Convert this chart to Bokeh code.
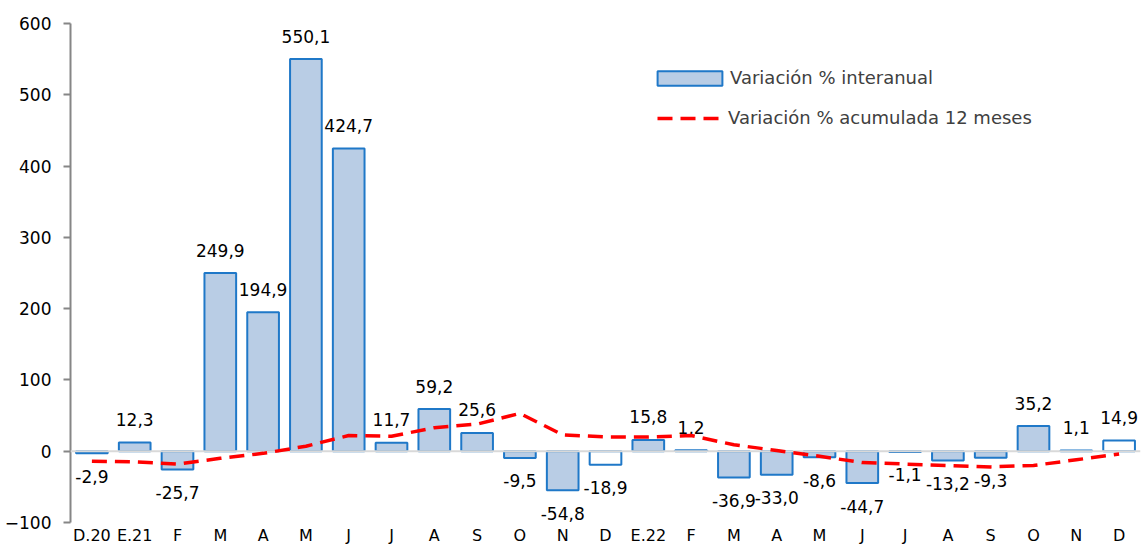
from bokeh.plotting import figure
from bokeh.models import (ColumnDataSource, FixedTicker, Span, Legend, LegendItem,
                          Range1d)
from bokeh.embed import file_html
from bokeh.resources import INLINE
from bokeh.core.properties import value

# ---- data ----
categories = ["D.20", "E.21", "F", "M", "A", "M", "J", "J", "A", "S", "O", "N", "D",
              "E.22", "F", "M", "A", "M", "J", "J", "A", "S", "O", "N", "D"]
interanual = [-2.9, 12.3, -25.7, 249.9, 194.9, 550.1, 424.7, 11.7, 59.2, 25.6, -9.5,
              -54.8, -18.9, 15.8, 1.2, -36.9, -33.0, -8.6, -44.7, -1.1, -13.2, -9.3,
              35.2, 1.1, 14.9]
acumulada = [-14, -15, -18, -10, -3, 7, 22, 21, 33, 38, 53, 23, 20, 20, 22, 9, 1, -7,
             -16, -18, -20, -22, -20, -12, -4]
y_ticks = [-100, 0, 100, 200, 300, 400, 500, 600]
hollow_idx = [12, 24]  # bars drawn without fill

FONT = "DejaVu Sans"
xs = list(range(len(categories)))
labels = [f"{v:.1f}".replace(".", ",") for v in interanual]

filled = ColumnDataSource(dict(
    x=[x for x in xs if x not in hollow_idx],
    top=[interanual[i] for i in xs if i not in hollow_idx]))
empty = ColumnDataSource(dict(
    x=[x for x in xs if x in hollow_idx],
    top=[interanual[i] for i in xs if i in hollow_idx]))
pos = ColumnDataSource(dict(
    x=[i for i in xs if interanual[i] >= 0],
    y=[interanual[i] for i in xs if interanual[i] >= 0],
    t=[labels[i] for i in xs if interanual[i] >= 0]))
neg = ColumnDataSource(dict(
    x=[i for i in xs if interanual[i] < 0],
    y=[interanual[i] for i in xs if interanual[i] < 0],
    t=[labels[i] for i in xs if interanual[i] < 0]))
line_src = ColumnDataSource(dict(x=xs, y=acumulada))

p = figure(width=1145, height=552, output_backend="svg", toolbar_location=None,
           x_range=Range1d(-0.5, len(categories) - 0.5),
           y_range=Range1d(y_ticks[0], y_ticks[-1]),
           min_border_left=70, min_border_right=5, min_border_top=23,
           min_border_bottom=30)
p.outline_line_color = None
p.xgrid.visible = False
p.ygrid.visible = False
p.background_fill_color = "white"

BAR_LINE = "#1F78C8"
BAR_FILL = "#B9CDE5"
bars = p.vbar(x="x", top="top", bottom=0, width=0.74, source=filled,
              fill_color=BAR_FILL, line_color=BAR_LINE, line_width=2)
p.vbar(x="x", top="top", bottom=0, width=0.74, source=empty,
       fill_color="white", line_color=BAR_LINE, line_width=2)

p.text(x="x", y="y", text="t", source=pos, text_align="center",
       text_baseline="middle", y_offset=-23, text_font=value(FONT),
       text_font_size="17px", text_color="black")
p.text(x="x", y="y", text="t", source=neg, text_align="center",
       text_baseline="middle", y_offset=23, text_font=value(FONT),
       text_font_size="17px", text_color="black")

zero = Span(location=0, dimension="width", line_color="#D9D9D9", line_width=2)
p.add_layout(zero)

ln = p.line(x="x", y="y", source=line_src, line_color="#FF0000", line_width=3.5,
            line_dash="15 8")
ln.level = "overlay"

# axes
p.yaxis.ticker = FixedTicker(ticks=y_ticks)
p.yaxis.axis_line_color = "#868686"
p.yaxis.axis_line_width = 2
p.yaxis.major_tick_line_color = "#868686"
p.yaxis.major_tick_line_width = 2
p.yaxis.major_tick_out = 7
p.yaxis.major_tick_in = 0
p.yaxis.minor_tick_line_color = None
p.yaxis.major_label_standoff = 12
p.yaxis.major_label_text_font = FONT
p.yaxis.major_label_text_font_size = "17px"
p.yaxis.major_label_text_color = "black"

p.xaxis.ticker = FixedTicker(ticks=xs)
p.xaxis.major_label_overrides = {i: c for i, c in enumerate(categories)}
p.xaxis.axis_line_color = None
p.xaxis.major_tick_line_color = None
p.xaxis.major_tick_out = 0
p.xaxis.major_tick_in = 0
p.xaxis.minor_tick_line_color = None
p.xaxis.minor_tick_out = 0
p.xaxis.major_label_standoff = 3
p.xaxis.major_label_text_font = FONT
p.xaxis.major_label_text_font_size = "16px"
p.xaxis.major_label_text_color = "black"

common = dict(padding=0, margin=0, border_line_color=None, background_fill_alpha=0,
              label_text_font=FONT, label_text_font_size="18px",
              label_text_color="#404040")
legend_bars = Legend(items=[LegendItem(label="Variación % interanual", renderers=[bars])],
                     location=(579, 434), glyph_width=81, glyph_height=18,
                     label_standoff=-2, **common)
legend_line = Legend(items=[LegendItem(label="Variación % acumulada 12 meses",
                                       renderers=[ln])],
                     location=(587, 394), glyph_width=65, glyph_height=14,
                     label_standoff=6, **common)
p.add_layout(legend_bars)
p.add_layout(legend_line)

open("out.html", "w").write(file_html(p, INLINE))
